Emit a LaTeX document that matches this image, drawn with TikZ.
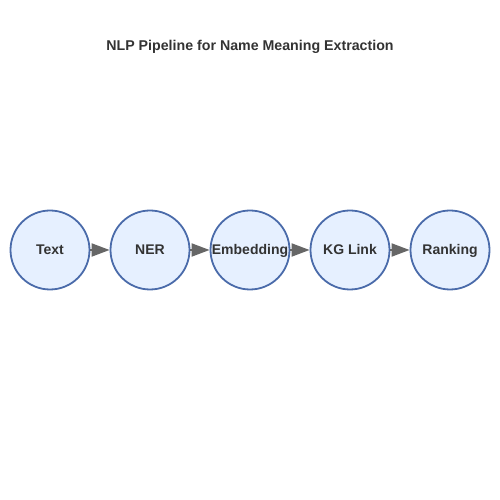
\documentclass[tikz,border=0pt]{standalone}
\usepackage{fontspec}
\setmainfont{Liberation Sans}
\usetikzlibrary{arrows.meta}
\definecolor{stepfill}{HTML}{E6F0FF}
\definecolor{stepline}{HTML}{4A6BAA}
\definecolor{arrowgray}{HTML}{666666}
\definecolor{textgray}{HTML}{333333}
\begin{document}
\begin{tikzpicture}[x=1pt,y=1pt,stage/.style={draw=stepline,fill=stepfill,line width=1.8pt,circle,minimum size=79pt,inner sep=0pt,text height=9pt,text depth=0pt,text=textgray,font=\bfseries\fontsize{14}{16}\selectfont},flow/.style={draw=arrowgray,line width=2pt,-{Triangle[length=18pt,width=13pt]}}]
  \useasboundingbox (0,0) rectangle (500,500);
  \node (title) [text=textgray,font=\bfseries\fontsize{14.2}{16}\selectfont] at (250,453) {NLP Pipeline for Name Meaning Extraction};
  \node (text) [stage] at (50,250) {Text};
  \node (ner) [stage] at (150,250) {NER};
  \node (emb) [stage] at (250,250) {Embedding};
  \node (kg) [stage] at (350,250) {KG Link};
  \node (rank) [stage] at (450,250) {Ranking};
  \draw[flow] (text) -- (ner);
  \draw[flow] (ner) -- (emb);
  \draw[flow] (emb) -- (kg);
  \draw[flow] (kg) -- (rank);
\end{tikzpicture}
\end{document}
